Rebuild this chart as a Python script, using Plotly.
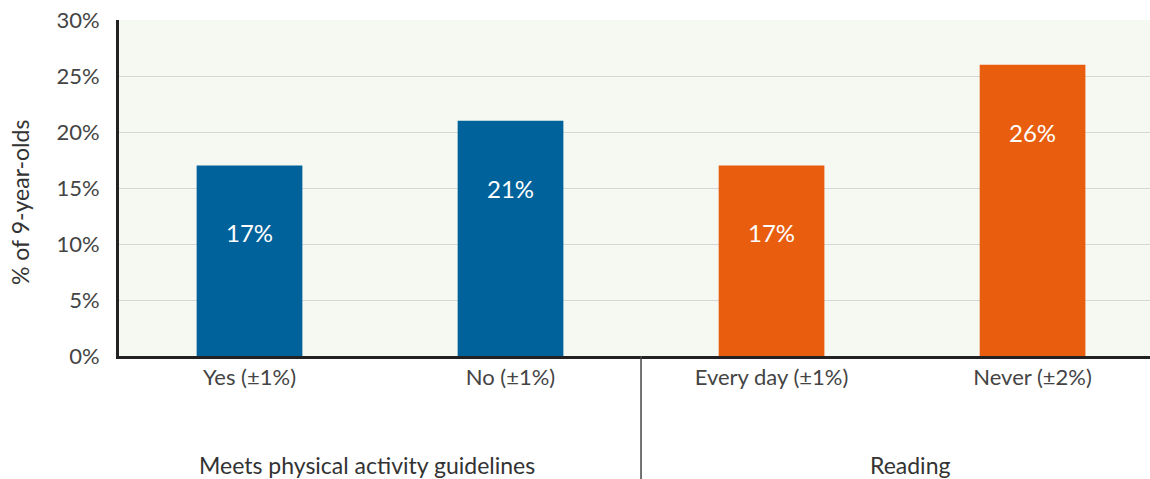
import plotly.graph_objects as go

categories = ["Yes (±1%)", "No (±1%)", "Every day (±1%)", "Never (±2%)"]
values = [17, 21, 17, 26]
bar_colors = ["#00629b", "#00629b", "#e85d0e", "#e85d0e"]
groups = ["Meets physical activity guidelines", "Reading"]
group_pos = [0.45, 2.53]
y_ticks = [0, 5, 10, 15, 20, 25, 30]

FONT = "Lato"
x = list(range(len(categories)))
PLOT_H = 336.0

fig = go.Figure()
fig.add_trace(go.Bar(
    x=x, y=values, marker=dict(color=bar_colors, line=dict(width=0)),
    width=0.405, hoverinfo="skip", showlegend=False,
))

for xi, v in zip(x, values):
    fig.add_annotation(x=xi, y=v - 6, xref="x", yref="y", text=f"{v}%",
                       showarrow=False, font=dict(family=FONT, size=24, color="white"))

# group labels
for gx, g in zip(group_pos, groups):
    fig.add_annotation(x=gx, y=-(465 - 356) / PLOT_H, xref="x", yref="paper",
                       yanchor="middle", text=g, showarrow=False,
                       font=dict(family=FONT, size=23, color="#333333"))

# separator line between groups
fig.add_shape(type="line", xref="x", yref="paper", x0=1.5, x1=1.5, y0=0, y1=-0.4,
              line=dict(color="#444444", width=1.5))

# y-axis title
fig.add_annotation(x=0, xref="paper", xshift=-115, y=(356 - 203) / PLOT_H, yref="paper",
                   text="% of 9-year-olds", textangle=-90, showarrow=False,
                   font=dict(family=FONT, size=23, color="#333333"))

fig.update_layout(
    width=1150, height=479,
    margin=dict(l=119, r=0, t=20, b=123),
    paper_bgcolor="white", plot_bgcolor="#f6f8f2",
    font=dict(family=FONT, size=22, color="#444444"),
    xaxis=dict(range=[-0.5, 3.45], tickmode="array", tickvals=x, ticktext=categories,
               showgrid=False, zeroline=False, showline=True, linecolor="#222222",
               linewidth=3, ticks="", tickfont=dict(size=22, color="#444444")),
    yaxis=dict(range=[0, 30], tickmode="array", tickvals=y_ticks,
               ticktext=[f"{t}%" for t in y_ticks], showgrid=True,
               gridcolor="#d6d6d6", gridwidth=1, zeroline=False, showline=True,
               linecolor="#222222", linewidth=3, ticks="", ticklabelstandoff=12,
               tickfont=dict(size=22, color="#444444")),
)

fig.write_html("out.html", config={"displayModeBar": False},
               post_script="document.body.style.margin='0';document.body.style.overflow='hidden';")
